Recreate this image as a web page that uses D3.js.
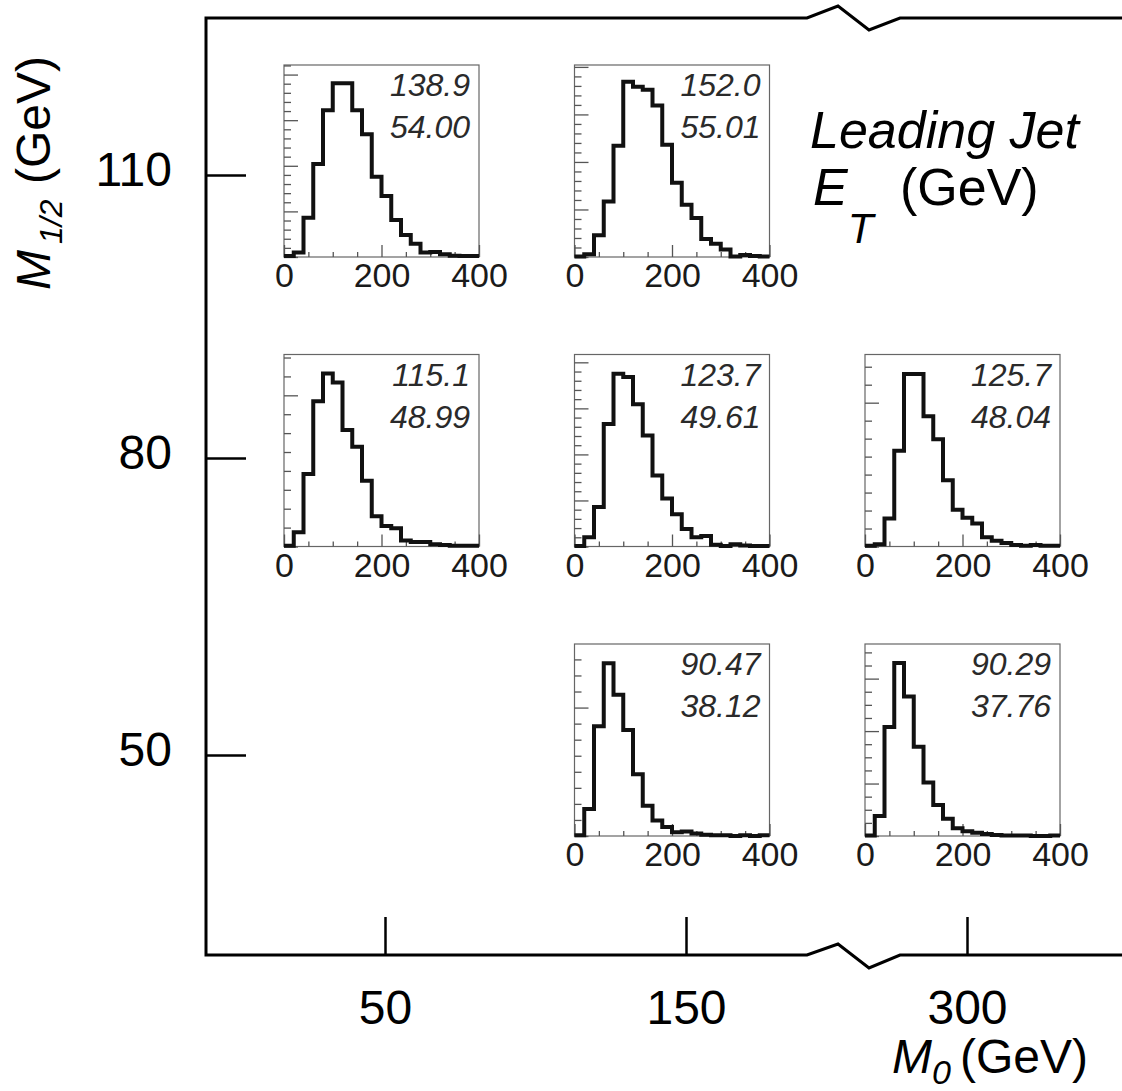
<!DOCTYPE html>
<html>
<head>
<meta charset="utf-8">
<script src="https://cdn.jsdelivr.net/npm/d3@7"></script>
<style>
body { margin:0; background:#fff; }
svg { display:block; font-family: "Liberation Sans", Arial, Helvetica, sans-serif; }
</style>
</head>
<body>
<div id="chart"></div>
<script>
// SUSY grid points (outer axes)
var m0Values = [50, 150, 300];
var m12Values = [110, 80, 50];
var m0Labels = ["50", "150", "300"];
var m12Labels = ["110", "80", "50"];

// leading jet Et histograms : 20 GeV bins from 0 to 400
var binLow = [0, 20, 40, 60, 80, 100, 120, 140, 160, 180, 200, 220, 240, 260, 280, 300, 320, 340, 360, 380];
var etMax = 400;
var etMajorTicks = [0, 200, 400];
var etMinorTicks = [50, 100, 150, 250, 300, 350];
var etTickLabels = ["0", "200", "400"];

// one entry per inset
var insetM0  = [50, 150, 50, 150, 300, 150, 300];
var insetM12 = [110, 110, 80, 80, 80, 50, 50];
var etMean = ["138.9", "152.0", "115.1", "123.7", "125.7", "90.47", "90.29"];
var etRms  = ["54.00", "55.01", "48.99", "49.61", "48.04", "38.12", "37.76"];
var countMax  = [421, 404, 254, 417, 267, 299, 366];
var countMinor = [20, 20, 25, 20, 25, 25, 25];
var countMajor = [100, 100, 200, 100, 200, 200, 100];

var counts_50_110  = [2, 10, 86, 204, 322, 381, 381, 322, 269, 176, 134, 81, 48, 29, 10, 11, 6, 3, 2, 2];
var counts_150_110 = [1, 6, 46, 117, 234, 369, 358, 352, 319, 236, 156, 110, 82, 38, 28, 16, 1, 4, 2, 1];
var counts_50_80   = [1, 19, 96, 192, 229, 217, 154, 132, 87, 40, 27, 24, 8, 6, 6, 3, 2, 1, 1, 1];
var counts_150_80  = [1, 20, 86, 266, 375, 368, 309, 241, 154, 104, 70, 38, 20, 23, 4, 1, 5, 2, 1, 1];
var counts_300_80  = [1, 3, 39, 133, 240, 240, 181, 149, 92, 51, 40, 32, 13, 8, 5, 2, 1, 2, 1, 1];
var counts_150_50  = [1, 42, 171, 269, 220, 165, 96, 47, 24, 14, 6, 7, 4, 2, 1, 1, 0, 1, 0, 1];
var counts_300_50  = [1, 38, 208, 330, 266, 170, 102, 59, 33, 15, 9, 6, 4, 2, 1, 1, 1, 0, 0, 1];
var insetCounts = [counts_50_110, counts_150_110, counts_50_80, counts_150_80, counts_300_80, counts_150_50, counts_300_50];

var W = 1122, H = 1091;
var svg = d3.select("#chart").append("svg").attr("width", W).attr("height", H);

var frameLeft = 206, frameTopY = 18, frameBottomY = 955;

// broken axes -> piecewise scales
var xMain = d3.scaleLinear().domain(m0Values).range([385, 686, 967]);
var yMain = d3.scaleLinear().domain([50, 80, 110]).range([755, 458, 175]);

// frame with break marks
var framePts = [[W, frameTopY], [900, frameTopY], [869, frameTopY + 12], [838, frameTopY - 12], [807, frameTopY],
	[frameLeft, frameTopY], [frameLeft, frameBottomY],
	[807, frameBottomY], [838, frameBottomY - 11], [869, frameBottomY + 13], [900, frameBottomY], [W, frameBottomY]];
svg.append("path")
	.attr("d", d3.line()(framePts))
	.attr("fill", "none")
	.attr("stroke", "#000")
	.attr("stroke-width", 3)
	.attr("stroke-linejoin", "miter");

var ya = svg.append("g")
	.attr("transform", "translate(" + frameLeft + ",0)")
	.call(d3.axisLeft(yMain).tickValues(m12Values).tickFormat(function(d, i){ return m12Labels[i]; }).tickSize(-40).tickPadding(34));
var xa = svg.append("g")
	.attr("transform", "translate(0," + frameBottomY + ")")
	.call(d3.axisBottom(xMain).tickValues(m0Values).tickFormat(function(d, i){ return m0Labels[i]; }).tickSize(-38).tickPadding(35));
[ya, xa].forEach(function(a){
	a.select(".domain").remove();
	a.selectAll("line").attr("stroke", "#000").attr("stroke-width", 2.5);
	a.selectAll("text").attr("font-size", 48).attr("fill", "#000").attr("font-family", null);
});
ya.selectAll("text").attr("dy", "0.22em");

// axis titles
var yt = svg.append("text")
	.attr("transform", "translate(50,290) rotate(-90)")
	.attr("font-size", 48);
yt.append("tspan").attr("font-style", "italic").text("M");
yt.append("tspan").attr("font-style", "italic").attr("font-size", 32).attr("x", 46).attr("dy", 12).text("1/2");
yt.append("tspan").attr("x", 106).attr("dy", -12).text("(GeV)");

var xt = svg.append("text")
	.attr("x", 892).attr("y", 1073)
	.attr("font-size", 48);
xt.append("tspan").attr("font-style", "italic").text("M");
xt.append("tspan").attr("font-style", "italic").attr("font-size", 34).attr("dy", 11).text("0");
xt.append("tspan").attr("x", 960).attr("dy", -11).text("(GeV)");

svg.append("text")
	.attr("x", 810).attr("y", 148)
	.attr("font-size", 52).attr("font-style", "italic")
	.text("Leading Jet");
var et = svg.append("text").attr("x", 813).attr("y", 205).attr("font-size", 52);
et.append("tspan").attr("font-style", "italic").text("E");
et.append("tspan").attr("font-style", "italic").attr("font-size", 42).attr("dy", 38).text("T");
et.append("tspan").attr("x", 900).attr("dy", -38).text("(GeV)");

// insets
var colX = d3.scalePoint().domain(m0Values).range([284, 865]);
var rowY = d3.scalePoint().domain(m12Values).range([65, 644]);
var insetW = 195, insetH = 192;

insetM0.forEach(function(m0, i)
{
	var g = svg.append("g")
		.attr("transform", "translate(" + colX(m0) + "," + rowY(insetM12[i]) + ")");
	var xi = d3.scaleLinear().domain([0, etMax]).range([0, insetW]);
	var yi = d3.scaleLinear().domain([0, countMax[i]]).range([insetH, 0]);

	g.append("rect")
		.attr("width", insetW).attr("height", insetH)
		.attr("fill", "none").attr("stroke", "#666").attr("stroke-width", 1.2);

	// y ticks (no labels), pointing inside
	var all = d3.range(0, countMax[i] + 0.001, countMinor[i]);
	var maj = all.filter(function(v){ return v % countMajor[i] == 0; });
	var min = all.filter(function(v){ return v % countMajor[i] != 0; });
	var yMinAx = g.append("g").call(d3.axisLeft(yi).tickValues(min).tickSize(-7).tickFormat(""));
	var yMajAx = g.append("g").call(d3.axisLeft(yi).tickValues(maj).tickSize(-14).tickFormat(""));

	// x axis
	var xMinAx = g.append("g").attr("transform", "translate(0," + insetH + ")")
		.call(d3.axisBottom(xi).tickValues(etMinorTicks).tickSize(-5).tickFormat(""));
	var xMajAx = g.append("g").attr("transform", "translate(0," + insetH + ")")
		.call(d3.axisBottom(xi).tickValues(etMajorTicks).tickSize(-12).tickPadding(6)
			.tickFormat(function(d, k){ return etTickLabels[k]; }));

	[yMinAx, yMajAx, xMinAx, xMajAx].forEach(function(a){
		a.select(".domain").remove();
		a.selectAll("line").attr("stroke", "#555").attr("stroke-width", 1.3);
	});
	xMajAx.selectAll("text").attr("font-size", 34).attr("fill", "#1a1a1a").attr("font-family", null);

	// histogram
	var counts = insetCounts[i];
	var pts = binLow.map(function(b, k){ return [b, counts[k]]; });
	pts.push([etMax, counts[counts.length - 1]]);
	g.append("path")
		.attr("d", d3.line().x(function(d){ return xi(d[0]); }).y(function(d){ return yi(d[1]); }).curve(d3.curveStepAfter)(pts))
		.attr("fill", "none")
		.attr("stroke", "#111")
		.attr("stroke-width", 4);

	// mean / rms
	g.append("text").attr("x", insetW - 9).attr("y", 31)
		.attr("text-anchor", "end").attr("font-size", 32).attr("font-style", "italic").attr("fill", "#2a2a2a")
		.text(etMean[i]);
	g.append("text").attr("x", insetW - 9).attr("y", 73)
		.attr("text-anchor", "end").attr("font-size", 32).attr("font-style", "italic").attr("fill", "#2a2a2a")
		.text(etRms[i]);
});
</script>
</body>
</html>
